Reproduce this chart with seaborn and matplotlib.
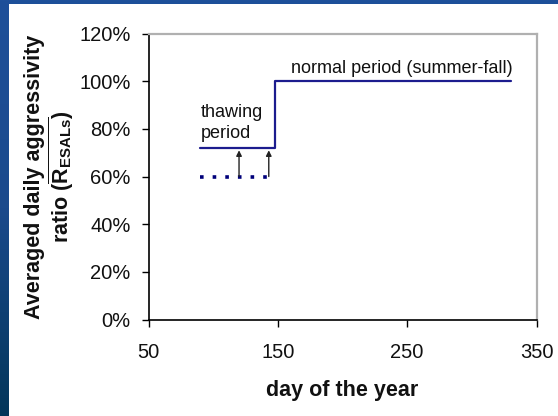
import numpy as np
import pandas as pd
import matplotlib
matplotlib.use("Agg")
import matplotlib.pyplot as plt
import seaborn as sns
from matplotlib.ticker import PercentFormatter
from matplotlib.colors import LinearSegmentedColormap
from matplotlib.patches import Rectangle

# ---- data ----
step_days = [90, 148, 330]
step_ratio = [0.72, 1.00, 1.00]
base_days = [90, 148]
base_ratio = [0.60, 0.60]
arrow_days = [120, 143]
arrow_from = [0.60, 0.60]
arrow_to = [0.71, 0.71]
x_ticks = [50, 150, 250, 350]
y_ticks = [0.0, 0.2, 0.4, 0.6, 0.8, 1.0, 1.2]

sns.set_theme(style="white")
plt.rcParams["font.family"] = ["Liberation Sans", "DejaVu Sans"]
plt.rcParams["mathtext.fontset"] = "custom"
plt.rcParams["mathtext.rm"] = "Liberation Sans"
plt.rcParams["mathtext.bf"] = "Liberation Sans:bold"

W, H = 558, 416
fig = plt.figure(figsize=(W / 100, H / 100), dpi=100)

# background gradient
bg = fig.add_axes([0, 0, 1, 1], zorder=-10)
cmap = LinearSegmentedColormap.from_list("bg", ["#1e509a", "#1b4a8c", "#03365a"])
grad = np.linspace(0, 1, 256).reshape(-1, 1)
bg.imshow(grad, aspect="auto", cmap=cmap, extent=[0, 1, 0, 1], origin="upper")
bg.set_axis_off()
bg.add_patch(Rectangle((9 / W, 0), 1, (H - 4) / H, transform=fig.transFigure,
                       facecolor="white", edgecolor="none", zorder=5))

ax = fig.add_axes([148.5 / W, (H - 319.5) / H, 388 / W, 286 / H])
ax.set_facecolor("white")

df_step = pd.DataFrame({"day": step_days, "ratio": step_ratio})
df_base = pd.DataFrame({"day": base_days, "ratio": base_ratio})

sns.lineplot(data=df_step, x="day", y="ratio", ax=ax, color="#1c1c8e",
             lw=1.6, drawstyle="steps-post", sort=True)
sns.lineplot(data=df_base, x="day", y="ratio", ax=ax, color="#00007a",
             lw=2.6, linestyle=(0, (1, 2.5)), dash_capstyle="butt")

for xd, y0, y1 in zip(arrow_days, arrow_from, arrow_to):
    ax.annotate("", xy=(xd, y1), xytext=(xd, y0),
                arrowprops=dict(arrowstyle="-|>", color="#222222", lw=1.0,
                                mutation_scale=8, shrinkA=0, shrinkB=0))

ax.text(90.5, 0.905, "thawing\nperiod", fontsize=13, va="top", ha="left",
        color="#111111", linespacing=1.3)
ax.text(160, 1.055, "normal period (summer-fall)", fontsize=13, va="center",
        ha="left", color="#111111")

ax.set_xlim(50, 350)
ax.set_ylim(0, 1.2)
ax.set_xticks(x_ticks)
ax.set_yticks(y_ticks)
ax.yaxis.set_major_formatter(PercentFormatter(1.0, decimals=0))
ax.tick_params(axis="both", direction="out", length=5, width=1.0,
               color="black", labelsize=14.5, labelcolor="#111111")
ax.tick_params(axis="y", pad=8)
ax.tick_params(axis="x", pad=12)
ax.tick_params(bottom=True, left=True)

for s in ["left", "bottom"]:
    ax.spines[s].set_color("black")
    ax.spines[s].set_linewidth(1.2)
for s in ["top", "right"]:
    ax.spines[s].set_color("#b0b0b0")
    ax.spines[s].set_linewidth(1.6)

ax.set_xlabel("day of the year", fontsize=15.5, fontweight="bold",
              color="#111111", labelpad=13)
ax.set_ylabel("Averaged daily aggressivity\n"
              r"ratio ($\overline{\mathbf{R}_{\mathbf{ESALs}}}$)",
              fontsize=15.5, fontweight="bold", color="#111111",
              labelpad=2, linespacing=1.1)

fig.savefig("out.png", dpi=100, facecolor=fig.get_facecolor())
